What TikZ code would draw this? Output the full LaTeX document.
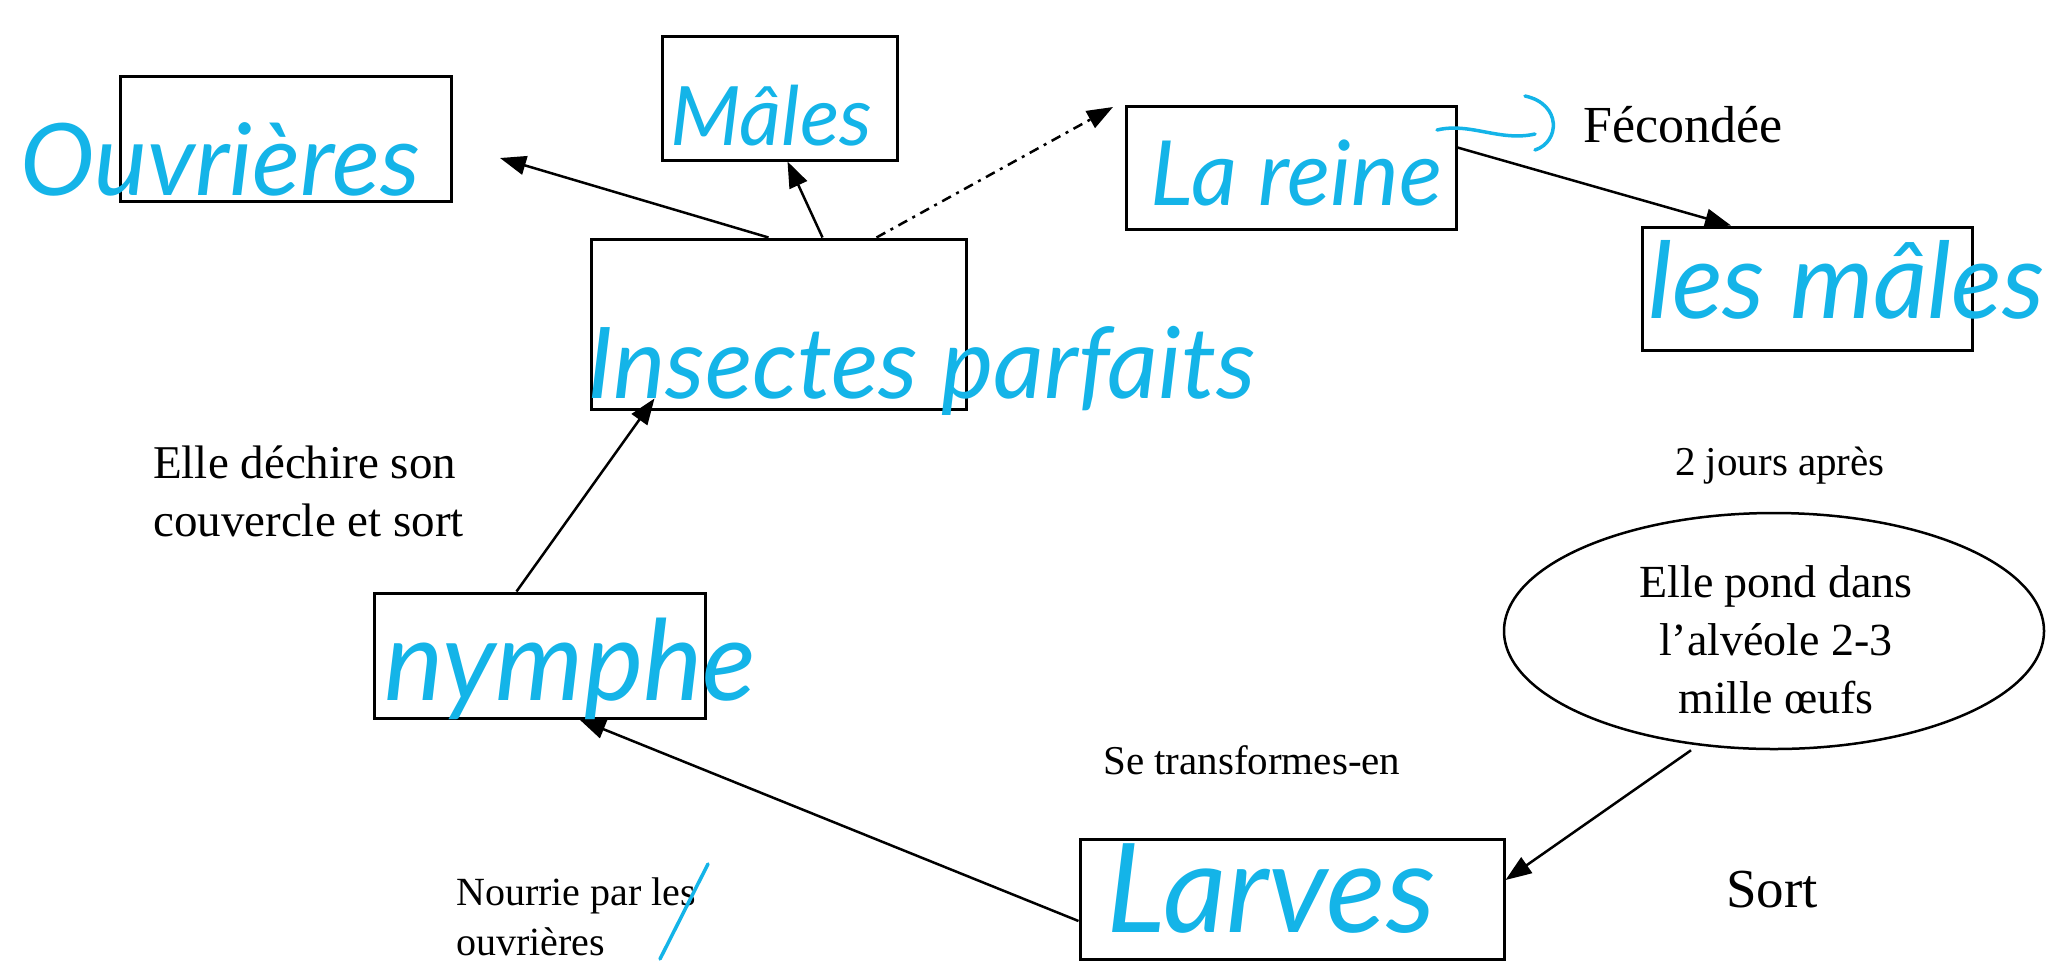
\documentclass[tikz,border=0pt]{standalone}
\usepackage{fontspec}
\setmainfont{Liberation Serif}
\newfontfamily\handfont{Lato}
\usetikzlibrary{arrows.meta,shapes.geometric}
\definecolor{handblue}{RGB}{20,180,232}
\tikzset{
  box/.style={draw=black, line width=3pt, inner sep=0pt, fill=none},
  conn/.style={line width=2.5pt, -{Triangle[length=26pt,width=19pt]}},
  dashdot/.style={conn, dash pattern=on 10pt off 6pt on 3pt off 6pt},
  typed/.style={inner sep=0pt, font=\fontsize{#1}{#1}\selectfont},
  typedml/.style={inner sep=0pt, align=left, font=\fontsize{#1}{58}\selectfont},
  hand/.style={inner sep=0pt, text=handblue, font=\handfont\itshape\fontsize{#1}{#1}\selectfont},
  handline/.style={draw=handblue, line width=3.5pt, line cap=round}
}
\begin{document}
\begin{tikzpicture}[x=1pt,y=-1pt]
\useasboundingbox[fill=white] (0,0) rectangle (2047,962);
% boxes
\node[box, minimum width=331pt, minimum height=125pt] (ouv) at (285.5,138.5) {};
\node[box, minimum width=235pt, minimum height=124pt] (mal) at (779.5,98) {};
\node[box, minimum width=375pt, minimum height=170pt] (ins) at (778.5,324) {};
\node[box, minimum width=330pt, minimum height=123pt] (rei) at (1291,167.5) {};
\node[box, minimum width=330pt, minimum height=123pt] (lesm) at (1807,288.5) {};
\node[box, minimum width=331pt, minimum height=125pt] (nym) at (539.5,655.5) {};
\node[box, minimum width=424pt, minimum height=120pt] (lar) at (1292,899) {};
\node[draw=black, line width=2.5pt, ellipse, minimum width=540pt, minimum height=236pt, inner sep=0pt] (ell) at (1774,631) {};
% free ends
\coordinate (ouvtip) at (500,158);
\coordinate (reitip) at (1113,107);
% connectors
\draw[conn] ([xshift=-10pt]ins.north) -- (ouvtip);
\draw[conn] ([xshift=44pt]ins.north) -- ([xshift=8pt]mal.south);
\draw[dashdot] ([xshift=98pt]ins.north) -- (reitip);
\draw[conn] ([yshift=20pt]rei.east) -- ([xshift=-76pt]lesm.north);
\draw[conn] ([xshift=-83pt]ell.south) -- ([yshift=19pt]lar.east);
\draw[conn] ([yshift=-22pt]lar.west) -- ([xshift=40pt]nym.south);
\draw[conn] ([xshift=-23pt]nym.north) -- ([xshift=-124pt,yshift=12pt]ins.south);
% typed text
\node[typed=52, anchor=base west] (fec) at (1583,142) {Fécondée};
\node[typedml=47, anchor=west] (dech) at (153,491) {Elle déchire son\\couvercle et sort};
\node[typed=41, anchor=base west] (jours) at (1675,475) {2 jours après};
\node[inner sep=0pt, align=center, font=\fontsize{46}{58}\selectfont] (pond) at (1776,640) {Elle pond dans\\l’alvéole 2-3\\mille œufs};
\node[typed=41, anchor=base west] (trans) at (1103,774) {Se transformes-en};
\node[typed=55, anchor=base west] (sort) at (1726,907) {Sort};
\node[inner sep=0pt, align=left, font=\fontsize{40}{50}\selectfont, anchor=west] (nour) at (456,917) {Nourrie par les\\ouvrières};
% handwritten text
\node[hand=100, anchor=base west] (hOuv) at (20,195) {Ouvrières};
\node[hand=82, anchor=base west] (hMal) at (670,145) {Mâles};
\node[hand=99, anchor=base west] (hIns) at (587,398) {Insectes parfaits};
\node[hand=90, anchor=base west] (hRei) at (1150,205) {La reine};
\node[hand=106, anchor=base west] (hLesm) at (1648,318) {les mâles};
\node[hand=112, anchor=base west] (hNym) at (384,700) {nymphe};
\node[hand=124, anchor=base west] (hLar) at (1106,932) {Larves};
% handwritten strokes
\draw[handline] (1437,130) .. controls (1470,122) and (1500,142) .. (1535,134);
\draw[handline] (1525,96) .. controls (1562,104) and (1560,142) .. (1535,150);
\draw[handline] (708,864) -- (660,959);
\end{tikzpicture}
\end{document}
